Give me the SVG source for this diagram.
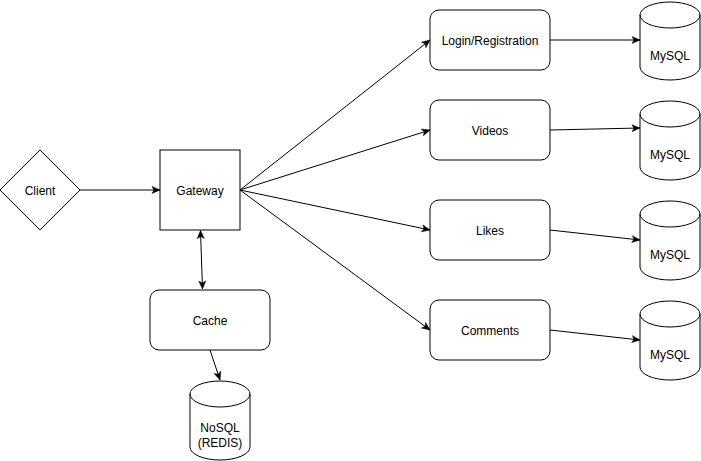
<svg xmlns="http://www.w3.org/2000/svg" width="701" height="461" viewBox="0 0 701 461">
<style>
.shape{fill:#fff;stroke:#000;stroke-width:1}
.lbl{font-family:"Liberation Sans",Arial,sans-serif;font-size:12px;fill:#000;text-anchor:middle}
.edge{fill:none;stroke:#000;stroke-width:1}
</style>
<defs>
<marker id="arr" markerUnits="userSpaceOnUse" markerWidth="10" markerHeight="10" viewBox="0 0 10 10" refX="9" refY="5" orient="auto-start-reverse">
<path d="M1,1.5 L9,5 L1,8.5 L3,5 Z" fill="#000" stroke="#000" stroke-width="0.5"/>
</marker>
</defs>
<rect width="701" height="461" fill="#fff"/>
<g id="connectors">
<path class="edge" d="M80,190 L160,190" marker-end="url(#arr)"/>
<path class="edge" d="M200.5,230.5 L202.5,289" marker-start="url(#arr)" marker-end="url(#arr)"/>
<path class="edge" d="M210,350 L220,380" marker-end="url(#arr)"/>
<path class="edge" d="M240,190 L430,40" marker-end="url(#arr)"/>
<path class="edge" d="M240,190 L430,130" marker-end="url(#arr)"/>
<path class="edge" d="M240,190 L430,230" marker-end="url(#arr)"/>
<path class="edge" d="M240,190 L430,330" marker-end="url(#arr)"/>
<path class="edge" d="M550,40 L640,40" marker-end="url(#arr)"/>
<path class="edge" d="M550,130 L640,128" marker-end="url(#arr)"/>
<path class="edge" d="M550,230 L640,240" marker-end="url(#arr)"/>
<path class="edge" d="M550,330 L640,340" marker-end="url(#arr)"/>
</g>
<g id="client">
<path class="shape" d="M40,150 L80,190 L40,230 L0,190 Z"/>
<text class="lbl" x="40" y="195">Client</text>
</g>
<g id="gateway">
<rect class="shape" x="160" y="150" width="80" height="80"/>
<text class="lbl" x="200" y="195">Gateway</text>
</g>
<g id="cache">
<rect class="shape" x="150" y="290" width="120" height="60" rx="9"/>
<text class="lbl" x="210" y="325">Cache</text>
</g>
<g id="nosql">
<path class="shape" d="M190,394 A30,13 0 0 1 250,394 L250,447 A30,13 0 0 1 190,447 Z"/>
<path class="edge" d="M190,394 A30,13 0 0 0 250,394"/>
<text class="lbl" x="220" y="432">NoSQL</text>
<text class="lbl" x="220" y="447">(REDIS)</text>
</g>
<g id="login">
<rect class="shape" x="430" y="10" width="120" height="60" rx="9"/>
<text class="lbl" x="490" y="45">Login/Registration</text>
</g>
<g id="videos">
<rect class="shape" x="430" y="100" width="120" height="60" rx="9"/>
<text class="lbl" x="490" y="135">Videos</text>
</g>
<g id="likes">
<rect class="shape" x="430" y="200" width="120" height="60" rx="9"/>
<text class="lbl" x="490" y="235">Likes</text>
</g>
<g id="comments">
<rect class="shape" x="430" y="300" width="120" height="60" rx="9"/>
<text class="lbl" x="490" y="335">Comments</text>
</g>
<g id="mysql1">
<path class="shape" d="M640,15 A30,13 0 0 1 700,15 L700,67 A30,13 0 0 1 640,67 Z"/>
<path class="edge" d="M640,15 A30,13 0 0 0 700,15"/>
<text class="lbl" x="670" y="60">MySQL</text>
</g>
<g id="mysql2">
<path class="shape" d="M640,114 A30,13 0 0 1 700,114 L700,167 A30,13 0 0 1 640,167 Z"/>
<path class="edge" d="M640,114 A30,13 0 0 0 700,114"/>
<text class="lbl" x="670" y="159">MySQL</text>
</g>
<g id="mysql3">
<path class="shape" d="M640,214 A30,13 0 0 1 700,214 L700,267 A30,13 0 0 1 640,267 Z"/>
<path class="edge" d="M640,214 A30,13 0 0 0 700,214"/>
<text class="lbl" x="670" y="259">MySQL</text>
</g>
<g id="mysql4">
<path class="shape" d="M640,314 A30,13 0 0 1 700,314 L700,367 A30,13 0 0 1 640,367 Z"/>
<path class="edge" d="M640,314 A30,13 0 0 0 700,314"/>
<text class="lbl" x="670" y="359">MySQL</text>
</g>
</svg>
